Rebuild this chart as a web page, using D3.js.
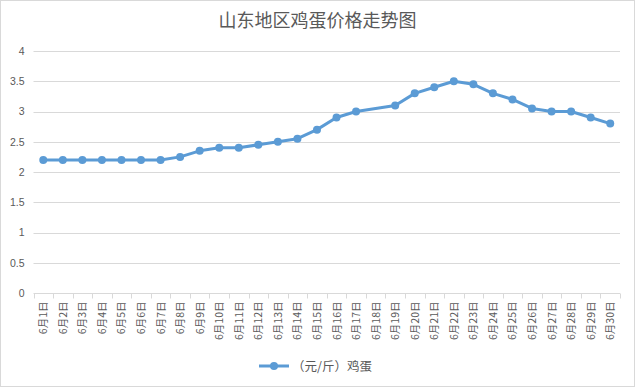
<!DOCTYPE html>
<html><head><meta charset="utf-8">
<script src="https://cdn.jsdelivr.net/npm/d3@7"></script>
<style>
html,body{margin:0;padding:0;background:#fff;}
svg{display:block;font-family:"Noto Sans CJK SC","Noto Sans",sans-serif;}
</style></head>
<body>
<svg id="c" width="635" height="387"></svg>
<script>
const title = "山东地区鸡蛋价格走势图";
const seriesName = "（元/斤）鸡蛋";
const categories = ["6月1日","6月2日","6月3日","6月4日","6月5日","6月6日","6月7日","6月8日","6月9日","6月10日","6月11日","6月12日","6月13日","6月14日","6月15日","6月16日","6月17日","6月18日","6月19日","6月20日","6月21日","6月22日","6月23日","6月24日","6月25日","6月26日","6月27日","6月28日","6月29日","6月30日"];
const prices = [2.2,2.2,2.2,2.2,2.2,2.2,2.2,2.25,2.35,2.4,2.4,2.45,2.5,2.55,2.7,2.9,3.0,null,3.1,3.3,3.4,3.5,3.45,3.3,3.2,3.05,3.0,3.0,2.9,2.8];
const yTicks = [0,0.5,1,1.5,2,2.5,3,3.5,4];

const svg = d3.select("#c");
const W = 635, H = 387;
const m = {left:33.5, right:15, top:51, bottom:94};
const color = "#5b9bd5", grid = "#d9d9d9", txt = "#595959";

svg.append("rect").attr("x",0.5).attr("y",0.5).attr("width",W-1).attr("height",H-1)
  .attr("fill","#fff").attr("stroke",grid);

const x = d3.scaleBand().domain(categories).range([m.left, W-m.right]);
const y = d3.scaleLinear().domain([0,4]).range([H-m.bottom, m.top]);

svg.append("text").attr("x",W/2).attr("y",27).attr("text-anchor","middle")
  .attr("font-size",18).attr("fill",txt).text(title);

// gridlines
svg.append("g").selectAll("line").data(yTicks).join("line")
  .attr("x1",m.left).attr("x2",W-m.right)
  .attr("y1",d=>Math.round(y(d))+0.5).attr("y2",d=>Math.round(y(d))+0.5)
  .attr("stroke",grid).attr("stroke-width",1);

// y labels
const yAxis = d3.axisLeft(y).tickValues(yTicks).tickSize(0).tickPadding(0).tickFormat(d3.format("~g"));
const ya = svg.append("g").attr("transform",`translate(${m.left-9},0)`).call(yAxis);
ya.select(".domain").remove();
ya.selectAll("text").attr("fill",txt).attr("font-size",10.5).attr("font-family","'Liberation Sans',Arial,sans-serif");

// x axis ticks at band boundaries
const y0 = Math.round(y(0))+0.5;
const bounds = categories.map(c=>x(c)).concat([W-m.right]);
svg.append("g").selectAll("line").data(bounds).join("line")
  .attr("x1",d=>Math.round(d)+0.5).attr("x2",d=>Math.round(d)+0.5)
  .attr("y1",y0).attr("y2",y0+5).attr("stroke",grid);

// x labels rotated
svg.append("g").selectAll("text").data(categories).join("text")
  .attr("transform",d=>`translate(${x(d)+x.bandwidth()/2+4},${y0+8}) rotate(-90)`)
  .attr("text-anchor","end").attr("font-size",10.5).attr("fill",txt).text(d=>d);

// line
const pts = categories.map((c,i)=>({c, v:prices[i]})).filter(d=>d.v!=null);
const line = d3.line().x(d=>x(d.c)+x.bandwidth()/2).y(d=>y(d.v));
svg.append("path").datum(pts).attr("d",line).attr("fill","none")
  .attr("stroke",color).attr("stroke-width",3).attr("stroke-linejoin","round");
svg.append("g").selectAll("circle").data(pts).join("circle")
  .attr("cx",d=>x(d.c)+x.bandwidth()/2).attr("cy",d=>y(d.v)).attr("r",4).attr("fill",color);

// legend
const ly = 366;
svg.append("line").attr("x1",259).attr("x2",289).attr("y1",ly).attr("y2",ly)
  .attr("stroke",color).attr("stroke-width",3);
svg.append("circle").attr("cx",274).attr("cy",ly).attr("r",4).attr("fill",color);
svg.append("text").attr("x",292).attr("y",ly+4.5).attr("font-size",12.5).attr("fill",txt).text(seriesName);
</script>
</body></html>
